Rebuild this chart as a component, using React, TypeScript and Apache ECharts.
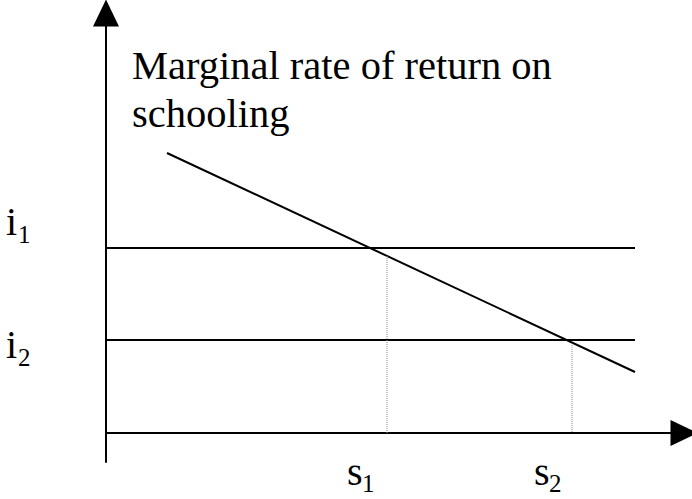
import React, { useEffect, useRef } from "react";
import * as echarts from "echarts";

// Interest-rate levels (vertical units) and their labels
const rateLevels = [185, 93];
const rateSubs = ["1", "2"];
// Marginal rate of return on schooling: start and end points
const mrrPoints = [
  [61, 280],
  [529, 61],
];
// Schooling levels where i meets the MRR curve
const schoolingLevels = [281, 466];
const schoolingTops = [177, 88];
const schoolingSubs = ["1", "2"];
const lineEndX = 529;
const curveTitle = "Marginal rate of return on\nschooling";

const FONT = "Liberation Serif";

export default function App() {
  const ref = useRef<HTMLDivElement>(null);
  useEffect(() => {
    if (!ref.current) return;
    const chart = echarts.init(ref.current, undefined, { renderer: "svg" });
    const series: any[] = [];
    rateLevels.forEach((v, i) => {
      series.push({
        type: "line",
        name: "i" + rateSubs[i],
        data: [
          [0, v],
          [lineEndX, v],
        ],
        symbol: "none",
        silent: true,
        lineStyle: { color: "#000", width: 2 },
      });
    });
    series.push({
      type: "line",
      name: "mrr",
      data: mrrPoints,
      symbol: "none",
      silent: true,
      lineStyle: { color: "#000", width: 2 },
    });
    schoolingLevels.forEach((x, i) => {
      series.push({
        type: "line",
        name: "s" + schoolingSubs[i],
        data: [
          [x, schoolingTops[i]],
          [x, 0],
        ],
        symbol: "none",
        silent: true,
        lineStyle: { color: "#888", width: 1, type: "dotted" },
      });
    });

    const txt = (x: number, y: number, text: string, size: number) => ({
      type: "text",
      x,
      y,
      silent: true,
      style: {
        text,
        font: `${size}px "${FONT}"`,
        fill: "#000",
        verticalAlign: "middle",
        align: "left",
      },
    });

    const graphic: any[] = [
      {
        type: "text",
        x: 132,
        y: 41.5,
        silent: true,
        style: {
          text: curveTitle,
          font: `40.5px "${FONT}"`,
          lineHeight: 48,
          fill: "#000",
          verticalAlign: "top",
          align: "left",
        },
      },
      txt(6, 221.5, "i", 40),
      txt(18, 234.5, rateSubs[0], 25),
      txt(6, 344.5, "i", 40),
      txt(18, 357.5, rateSubs[1], 25),
      txt(347, 471.5, "s", 40),
      txt(362, 483.5, schoolingSubs[0], 25),
      txt(534, 471.5, "s", 40),
      txt(549, 483.5, schoolingSubs[1], 25),
    ];

    chart.setOption({
      animation: false,
      backgroundColor: "#fff",
      grid: { left: 106, right: 8, top: 13, bottom: 37, containLabel: false },
      xAxis: {
        type: "value",
        min: 0,
        max: 578,
        axisLine: {
          show: true,
          onZero: true,
          lineStyle: { color: "#000", width: 2 },
          symbol: ["none", "triangle"],
          symbolSize: [26, 27],
        },
        axisTick: { show: false },
        axisLabel: { show: false },
        splitLine: { show: false },
      },
      yAxis: {
        type: "value",
        min: -29,
        max: 420,
        axisLine: {
          show: true,
          onZero: false,
          lineStyle: { color: "#000", width: 2 },
          symbol: ["none", "triangle"],
          symbolSize: [26, 27],
        },
        axisTick: { show: false },
        axisLabel: { show: false },
        splitLine: { show: false },
      },
      series,
      graphic,
    });
    return () => chart.dispose();
  }, []);
  return (
    <div
      ref={ref}
      style={{ position: "fixed", left: 0, top: 0, width: 692, height: 499, background: "#fff" }}
    />
  );
}
